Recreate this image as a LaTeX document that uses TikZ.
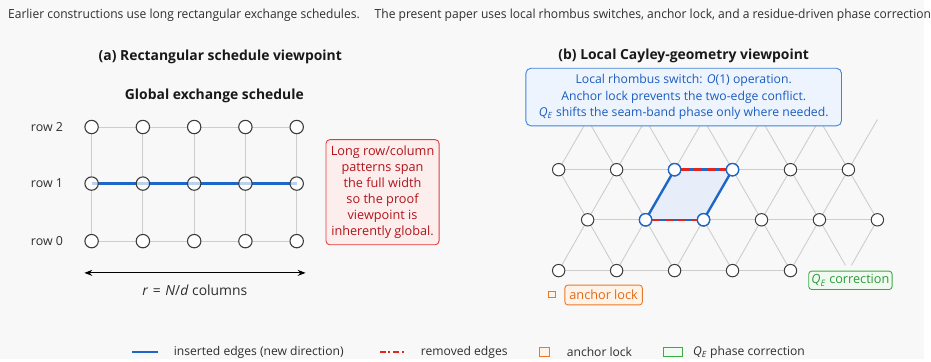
\documentclass[tikz,border=0pt]{standalone}
\usepackage{fontspec}
\setmainfont{Open Sans}
\usepackage{graphicx}
\usetikzlibrary{arrows.meta}
\definecolor{bg}{HTML}{F8F8F8}
\definecolor{hdr}{HTML}{2E2E2E}
\definecolor{gridc}{HTML}{CDCDCD}
\definecolor{nodec}{HTML}{3C3C3C}
\definecolor{blueE}{HTML}{1E66C8}
\definecolor{redE}{HTML}{E3241F}
\definecolor{redB}{HTML}{E23B3B}
\definecolor{redF}{HTML}{FDEEEE}
\definecolor{redT}{HTML}{B3141A}
\definecolor{blueB}{HTML}{3F84D8}
\definecolor{blueF}{HTML}{EEF4FD}
\definecolor{blueT}{HTML}{1A5CC0}
\definecolor{rhF}{HTML}{E7EEF9}
\definecolor{orB}{HTML}{E8792B}
\definecolor{orF}{HTML}{FFF3E8}
\definecolor{orT}{HTML}{E06B1A}
\definecolor{grB}{HTML}{3DAA4A}
\definecolor{grF}{HTML}{F1FAF1}
\definecolor{grT}{HTML}{2F9A3C}
\pgfdeclarelayer{bgl}
\pgfdeclarelayer{edges}
\pgfsetlayers{bgl,edges,main}
\begin{document}
\begin{tikzpicture}[x=1pt,y=-1pt,
  gnode/.style={circle,draw=nodec,line width=1.1pt,fill=white,minimum size=13.5pt,inner sep=0pt},
  lnode/.style={circle,draw=nodec,line width=1pt,fill=white,minimum size=12.5pt,inner sep=0pt},
  rnode/.style={circle,draw=blueE,line width=1.4pt,fill=white,minimum size=12.5pt,inner sep=0pt},
  gline/.style={draw=gridc,line width=0.9pt},
  bline/.style={draw=blueE,line width=2.4pt},
  rdash/.style={draw=redE,line width=2.4pt,dash pattern=on 8pt off 5pt},
  ttl/.style={font=\fontsize{14}{16}\selectfont\bfseries,text=black!90},
  lbl/.style={font=\fontsize{12.5}{14}\selectfont,text=hdr},
  leg/.style={font=\fontsize{12.2}{14}\selectfont,text=hdr,anchor=west}
]
\begin{pgfonlayer}{bgl}
\useasboundingbox[fill=bg] (0,0) rectangle (931,362);
\end{pgfonlayer}

% header
\node[anchor=base west,inner sep=0pt,font=\fontsize{12.6}{14}\selectfont,text=hdr] (hdr) at (8,18.3)
 {\resizebox{930pt}{\height}{Earlier constructions use long rectangular exchange schedules.\hspace{0.9em} The present paper uses local rhombus switches, anchor lock, and a residue-driven phase correction}};

% ---------------- (a)
\node[ttl,anchor=base] (ta) at (222,60.7) {(a) Rectangular schedule viewpoint};
\node[ttl,anchor=base] (tg) at (216,100) {Global exchange schedule};

\foreach \i/\x in {0/92.3,1/144,2/195.7,3/247.3,4/299}{
  \node[gnode] (g\i0) at (\x,243) {};
  \node[gnode,fill opacity=0.7,text opacity=1] (g\i1) at (\x,185) {};
  \node[gnode] (g\i2) at (\x,128) {};
}
\node[lbl,anchor=east] (r2) at (67,128) {row 2};
\node[lbl,anchor=east] (r1) at (67,185) {row 1};
\node[lbl,anchor=east] (r0) at (67,243) {row 0};

\begin{pgfonlayer}{edges}
\foreach \i in {0,...,4}{
  \draw[gline] (g\i0) -- (g\i1);
  \draw[gline] (g\i1) -- (g\i2);
}
\foreach \i/\n in {0/1,1/2,2/3,3/4}{
  \draw[gline] (g\i0) -- (g\n0);
  \draw[gline] (g\i2) -- (g\n2);
}
\draw[bline] (g01.center) -- (g41.center);
\end{pgfonlayer}

\coordinate (arL) at (85,275);
\coordinate (arR) at (308,275);
\draw[line width=1.1pt,{Stealth[length=8pt,width=6pt]}-{Stealth[length=8pt,width=6pt]}] (arL) -- (arR);
\node[anchor=base,font=\fontsize{14}{15}\selectfont,text=hdr] (rN) at (196.3,297.3) {\textit{r}\,\,=\,\,\textit{N}/\textit{d} columns};

\node[draw=redB,fill=redF,line width=0.9pt,rounded corners=4pt,minimum width=114pt,minimum height=106pt,
  align=center,text=redT,font=\fontsize{12.8}{16.2}\selectfont,inner sep=0pt] (rbox) at (385.5,193.7)
  {Long row/column\\patterns span\\the full width\\so the proof\\viewpoint is\\inherently global.};

% ---------------- (b)
\node[ttl,anchor=base] (tb) at (689,60) {(b) Local Cayley-geometry viewpoint};

% lattice
\foreach \k in {0,...,4}{ \node[lnode] (A\k) at ({563+\k*58.4},272.7) {}; }
\coordinate (A5) at ({563+5*58.4},272.7);
\foreach \k in {0,...,5}{
  \node[lnode] (B\k) at ({592.2+\k*58.4},221.5) {};
  \node[lnode] (C\k) at ({563+\k*58.4},171) {};
  \coordinate (D\k) at ({592.2+\k*58.4},120.5);
}
\node[rnode] at (B1) {};
\node[rnode] at (B2) {};
\node[rnode] at (C2) {};
\node[rnode] at (C3) {};

\begin{pgfonlayer}{edges}
\foreach \k/\n in {0/1,1/2,2/3,3/4}{ \draw[gline] (A\k) -- (A\n); }
\foreach \k/\n in {0/1,1/2,2/3,3/4,4/5}{
  \draw[gline] (B\k) -- (B\n);
  \draw[gline] (C\k) -- (C\n);
}
\foreach \k/\n in {0/1,1/2,2/3,3/4}{
  \draw[gline] (B\k) -- (A\k);
  \draw[gline] (B\k) -- (A\n);
}
\draw[gline] (B4) -- (A4);
\draw[gline,shorten >=6pt] (B4) -- (A5);
\draw[gline,shorten >=6pt] (B5) -- (A5);
\foreach \k/\n in {0/1,1/2,2/3,3/4,4/5}{
  \draw[gline] (B\k) -- (C\k);
  \draw[gline] (B\k) -- (C\n);
}
\draw[gline] (B5) -- (C5);
\draw[gline] (C0) -- (D0);
\foreach \k/\p in {1/0,2/1,3/2,4/3,5/4}{
  \draw[gline] (C\k) -- (D\p);
  \draw[gline] (C\k) -- (D\k);
}
\fill[rhF] (C2.center) -- (C3.center) -- (B2.center) -- (B1.center) -- cycle;
\draw[bline] (B1.center) -- (C2.center);
\draw[bline] (B2.center) -- (C3.center);
\draw[bline] (C2.center) -- (C3.center);
\draw[bline] (B1.center) -- (B2.center);
\draw[rdash] (C2) -- (C3);
\draw[rdash] (B1) -- (B2);
\end{pgfonlayer}

\node[draw=blueB,fill=blueF,line width=0.9pt,rounded corners=5pt,minimum width=318pt,minimum height=58pt,
  align=center,text=blueT,font=\fontsize{12.3}{16.7}\selectfont,inner sep=0pt] (bbox) at (689,97.8)
  {Local rhombus switch: \textit{O}(1) operation.\\Anchor lock prevents the two-edge conflict.\\\textit{Q}\textsubscript{\textit{E}} shifts the seam-band phase only where needed.};

\node[draw=orB,fill=orF,line width=0.9pt,minimum size=6.5pt,inner sep=0pt] (asq) at (556,296.7) {};
\node[draw=orB,fill=orF,line width=0.9pt,rounded corners=3pt,minimum width=78pt,minimum height=20pt,inner sep=0pt,
  text=orT,font=\fontsize{12.8}{15}\selectfont] (alk) at (608.3,297.3) {anchor lock};
\node[draw=grB,fill=grF,line width=0.9pt,rounded corners=3pt,minimum width=84pt,minimum height=18.5pt,inner sep=0pt,
  text=grT,font=\fontsize{12.8}{15}\selectfont] (qec) at (857,282.5) {\textit{Q}\textsubscript{\textit{E}} correction};

% ---------------- legend
\coordinate (l1a) at (133.3,355);
\coordinate (l1b) at (159.3,355);
\draw[bline,line width=2.2pt] (l1a) -- (l1b);
\node[leg] (t1) at (171.7,355) {inserted edges (new direction)};
\coordinate (l2a) at (382.7,355);
\coordinate (l2b) at (407.3,355);
\draw[draw=redE,line width=2pt,dash pattern=on 6pt off 2.8pt on 2pt off 2.8pt] (l2a) -- (l2b);
\node[leg] (t2) at (420.7,355) {removed edges};
\node[draw=orB,fill=orF,line width=1pt,minimum size=9.5pt,inner sep=0pt] (l3) at (548.7,355) {};
\node[leg] (t3) at (567.7,355) {anchor lock};
\node[draw=grB,fill=grF,line width=1pt,minimum width=19pt,minimum height=9pt,inner sep=0pt] (l4) at (677.8,355) {};
\node[leg] (t4) at (695,355) {\textit{Q}\textsubscript{\textit{E}} phase correction};
\end{tikzpicture}
\end{document}
